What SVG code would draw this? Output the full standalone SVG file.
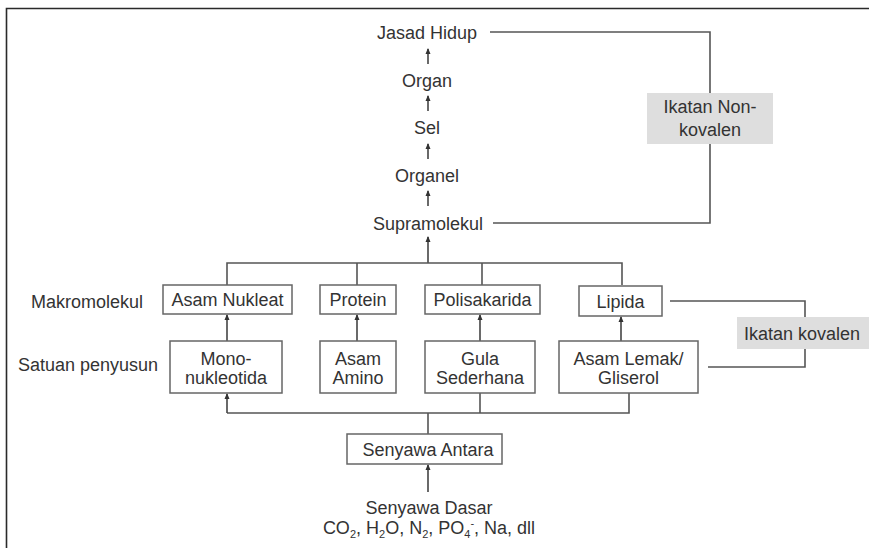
<svg xmlns="http://www.w3.org/2000/svg" width="869" height="548" viewBox="0 0 869 548">
<style>
text{font-family:"Liberation Sans",Arial,sans-serif;font-size:18px;fill:#333;text-anchor:middle}
.box{fill:#fff;stroke:#666;stroke-width:1.5}
.gbox{fill:#dedede;stroke:none}
.ln{fill:none;stroke:#555;stroke-width:1.6}
.ar{fill:none;stroke:#444;stroke-width:1.6;marker-end:url(#ah)}
.frame{stroke:#2a2a2a;stroke-width:1.6;fill:none}
</style>
<defs>
<marker id="ah" markerUnits="userSpaceOnUse" markerWidth="6" markerHeight="6" viewBox="0 0 6 6" refX="5" refY="3" orient="auto">
<path d="M0,0.5 L6,3 L0,5.5 Z" fill="#333"/>
</marker>
</defs>
<rect width="869" height="548" fill="#fff"/>
<g id="frame"><path class="frame" d="M6.5,548 V8.5 H869"/></g>

<g id="connectors">
<path class="ln" d="M490,32 H710 V93 M710,144 V223 H493"/>
<line class="ar" x1="428" y1="64" x2="428" y2="49"/>
<line class="ar" x1="428" y1="111" x2="428" y2="96"/>
<line class="ar" x1="428" y1="159" x2="428" y2="144"/>
<line class="ar" x1="428" y1="206" x2="428" y2="191"/>
<line class="ar" x1="428" y1="263" x2="428" y2="237"/>
<path class="ln" d="M227,285 V263 H622 V285 M357,263 V285 M482,263 V285"/>
<line class="ar" x1="227" y1="341" x2="227" y2="315"/>
<line class="ar" x1="357" y1="341" x2="357" y2="315"/>
<line class="ar" x1="480" y1="341" x2="480" y2="315"/>
<line class="ar" x1="621" y1="341" x2="621" y2="317"/>
<path class="ln" d="M227,413 H629 V393 M480,413 V393 M428,413 V434"/>
<line class="ar" x1="227" y1="413" x2="227" y2="394"/>
<line class="ar" x1="428" y1="492" x2="428" y2="465"/>
<path class="ln" d="M670,301 H805 V317 M805,349 V367 H708"/>
</g>

<g id="n-jasad"><text x="427" y="38.5">Jasad Hidup</text></g>
<g id="n-organ"><text x="427" y="86.5">Organ</text></g>
<g id="n-sel"><text x="427" y="133.5">Sel</text></g>
<g id="n-organel"><text x="427" y="181.5">Organel</text></g>
<g id="n-supra"><text x="428" y="229.5">Supramolekul</text></g>

<g id="n-nonkovalen">
<rect class="gbox" x="647" y="93" width="126" height="51"/>
<text x="710" y="113">Ikatan Non-</text>
<text x="710" y="136">kovalen</text>
</g>

<g id="l-makro"><text x="87" y="307.5">Makromolekul</text></g>
<g id="l-satuan"><text x="88" y="370.5">Satuan penyusun</text></g>

<g id="n-asamnukleat"><rect class="box" x="163" y="285" width="129" height="29"/><text x="227.5" y="306">Asam Nukleat</text></g>
<g id="n-protein"><rect class="box" x="320" y="285" width="76" height="29"/><text x="358" y="306">Protein</text></g>
<g id="n-polisakarida"><rect class="box" x="425" y="285" width="115" height="29"/><text x="482.5" y="306">Polisakarida</text></g>
<g id="n-lipida"><rect class="box" x="579" y="286" width="83" height="30"/><text x="620.5" y="307.5">Lipida</text></g>

<g id="n-mononukleotida"><rect class="box" x="170" y="341" width="112" height="52"/><text x="226" y="364.5">Mono-</text><text x="226" y="383.5">nukleotida</text></g>
<g id="n-asamamino"><rect class="box" x="320" y="341" width="76" height="52"/><text x="358" y="364.5">Asam</text><text x="358" y="383.5">Amino</text></g>
<g id="n-gula"><rect class="box" x="425" y="341" width="110" height="52"/><text x="480" y="364.5">Gula</text><text x="480" y="383.5">Sederhana</text></g>
<g id="n-asamlemak"><rect class="box" x="559" y="341" width="139" height="52"/><text x="628.5" y="364.5">Asam Lemak/</text><text x="628.5" y="383.5">Gliserol</text></g>

<g id="n-kovalen">
<rect class="gbox" x="737" y="317" width="132" height="32"/>
<text x="802" y="339.5">Ikatan kovalen</text>
</g>

<g id="n-antara"><rect class="box" x="347" y="434" width="155" height="30"/><text x="428" y="455.5">Senyawa Antara</text></g>

<g id="n-dasar">
<text x="429" y="513.5">Senyawa Dasar</text>
<text x="429" y="534">CO<tspan font-size="11" dy="4">2</tspan><tspan dy="-4">, H</tspan><tspan font-size="11" dy="4">2</tspan><tspan dy="-4">O, N</tspan><tspan font-size="11" dy="4">2</tspan><tspan dy="-4">, PO</tspan><tspan font-size="11" dy="4">4</tspan><tspan font-size="11" dy="-11">-</tspan><tspan dy="7">, Na, dll</tspan></text>
</g>
</svg>
